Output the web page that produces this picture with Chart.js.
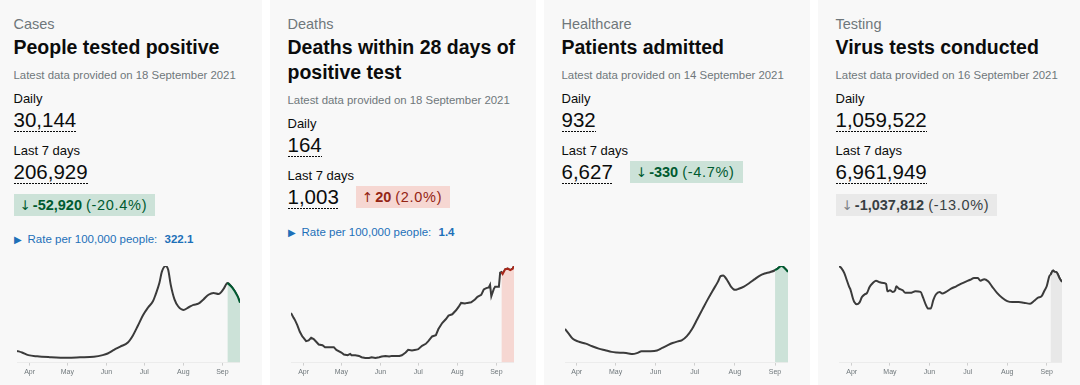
<!DOCTYPE html>
<html>
<head>
<meta charset="utf-8">
<script src="https://cdn.jsdelivr.net/npm/chart.js@4"></script>
<style>
  html,body{margin:0;padding:0;}
  body{width:1080px;height:385px;overflow:hidden;background:#fff;font-family:"Liberation Sans",Arial,sans-serif;color:#0b0c0c;}
  .card{position:absolute;top:0;width:266px;height:385px;background:#f8f8f8;box-sizing:border-box;padding:14px 0 0 17.5px;}
  .cap{font-size:14.5px;line-height:20px;color:#6f777b;}
  .title{font-size:19.5px;font-weight:700;line-height:25px;margin-top:1px;}
  .date{font-size:11.4px;line-height:18px;margin-top:6px;color:#6f777b;}
  .lbl{font-size:13px;line-height:18px;}
  .l1{margin-top:6px;}
  .l2{margin-top:10px;}
  .row{display:flex;flex-wrap:wrap;align-items:center;column-gap:17px;row-gap:5px;width:232px;}
  .brk{flex-basis:100%;height:0;}
  .num{display:inline-block;font-size:20.5px;line-height:23px;padding-bottom:1px;
       background:repeating-linear-gradient(to right,#0b0c0c 0 2px,transparent 2px 3px) left bottom/100% 1px no-repeat;}
  .chg{display:inline-flex;align-items:center;height:22px;padding:0 8px 0 6px;font-size:14.5px;white-space:nowrap;}
  .chg .ar{margin-right:2px;font-family:"DejaVu Sans",sans-serif;font-size:13.5px;}
  .chg b{font-weight:700;}
  .chg .pct{letter-spacing:0.7px;margin-left:4px;}
  .down{background:#cce2d8;color:#005a30;}
  .up{background:#f6d7d2;color:#942514;}
  .neutral{background:#e9e9e9;color:#383f43;}
  .neutral .ar{color:#7c8286;}
  .rate{margin-top:14px;font-size:11.5px;line-height:18px;color:#1d70b8;}
  .rate .tri{font-size:9.5px;margin-right:6px;}
  .rate b{margin-left:4px;}
  .chart{position:absolute;left:21px;top:262px;width:223px;height:116px;}
</style>
</head>
<body>

<div class="card" style="left:-4px">
  <div class="cap">Cases</div>
  <div class="title">People tested positive</div>
  <div class="date">Latest data provided on 18 September 2021</div>
  <div class="lbl l1">Daily</div>
  <div><span class="num">30,144</span></div>
  <div class="lbl l2">Last 7 days</div>
  <div class="row"><span class="num">206,929</span><span class="brk"></span><span class="chg down"><span class="ar">↓</span><b>-52,920</b><span class="pct">(-20.4%)</span></span></div>
  <div class="rate"><span class="tri">▶</span>Rate per 100,000 people: <b>322.1</b></div>
  <div class="chart"><canvas id="c1"></canvas></div>
</div>

<div class="card" style="left:270px">
  <div class="cap">Deaths</div>
  <div class="title">Deaths within 28 days of positive test</div>
  <div class="date">Latest data provided on 18 September 2021</div>
  <div class="lbl l1">Daily</div>
  <div><span class="num">164</span></div>
  <div class="lbl l2">Last 7 days</div>
  <div class="row"><span class="num">1,003</span><span class="chg up"><span class="ar">↑</span><b>20</b><span class="pct">(2.0%)</span></span></div>
  <div class="rate"><span class="tri">▶</span>Rate per 100,000 people: <b>1.4</b></div>
  <div class="chart"><canvas id="c2"></canvas></div>
</div>

<div class="card" style="left:544px">
  <div class="cap">Healthcare</div>
  <div class="title">Patients admitted</div>
  <div class="date">Latest data provided on 14 September 2021</div>
  <div class="lbl l1">Daily</div>
  <div><span class="num">932</span></div>
  <div class="lbl l2">Last 7 days</div>
  <div class="row"><span class="num">6,627</span><span class="chg down"><span class="ar">↓</span><b>-330</b><span class="pct">(-4.7%)</span></span></div>
  <div class="chart"><canvas id="c3"></canvas></div>
</div>

<div class="card" style="left:818px">
  <div class="cap">Testing</div>
  <div class="title">Virus tests conducted</div>
  <div class="date">Latest data provided on 16 September 2021</div>
  <div class="lbl l1">Daily</div>
  <div><span class="num">1,059,522</span></div>
  <div class="lbl l2">Last 7 days</div>
  <div class="row"><span class="num">6,961,949</span><span class="brk"></span><span class="chg neutral"><span class="ar">↓</span><b>-1,037,812</b><span class="pct">(-13.0%)</span></span></div>
  <div class="chart"><canvas id="c4"></canvas></div>
</div>

<script>
// x values are days counted from 1 April 2021
const monthTickDays = [0, 30, 61, 91, 122, 153];
const monthTickLabels = ["Apr", "May", "Jun", "Jul", "Aug", "Sep"];

const casesDays = [-10,-6,-1,6,16,30,40,51,58,62,67,72,78,82,86,90,94,98,100,103,105,108,110,112,115,118,122,126,130,134,138,142,146,150,154,157,161,165,167];
const casesValues = [5800,5000,3700,3100,2700,2400,2600,2900,3700,4500,6300,7900,9900,13400,18300,23400,27200,30400,33600,39300,44900,47700,45800,38500,31200,27700,26000,27200,28500,29100,31200,33500,34400,33900,36400,39300,36900,32800,29600];
const casesHighlightFrom = 157;

const deathsDays = [-10,-8,-7,-5,-3,-1,0,2,4,6,8,10,12,15,17,20,22,24,26,30,32,35,37,38,41,44,46,49,52,54,57,60,62,65,68,70,73,76,78,81,83,86,89,91,94,97,99,102,105,107,110,113,115,118,121,123,125,128,130,133,136,138,141,143,145,147,148,149,151,152,155,156,157,158,160,162,163,164,166,167];
const deathsValues = [74,67,64,56,46,39,37,32,33,37,35,31,27,26,23,23,23,23,19,15,12,11,13,11,11,10,8,7,7,8,7,8,9,10,9,10,10,10,11,15,19,18,19,20,25,28,32,39,41,50,59,65,70,72,78,83,89,88,89,90,94,98,101,109,111,112,116,99,110,113,113,134,135,132,139,140,139,138,140,144];
const deathsHighlightFrom = 157;

const admissionsDays = [-9,-6,-3,1,7,12,17,22,27,31,36,40,43,47,50,57,62,66,70,74,78,81,85,89,93,97,101,105,109,111,113,116,119,122,125,129,133,137,141,145,149,153,155,158,160,163];
const admissionsValues = [348,297,247,220,196,169,145,128,111,105,101,95,88,101,118,118,125,152,179,203,220,230,274,348,449,551,652,747,838,895,902,855,787,753,764,787,821,861,899,922,936,956,973,1000,983,939];
const admissionsHighlightFrom = 153;

const testsDays = [-10,-8,-6,-4,-2,-1,1,2,4,6,8,10,12,14,16,19,22,25,27,28,30,32,34,35,37,40,42,46,50,54,56,58,60,62,64,66,69,71,74,78,82,86,90,93,96,99,101,104,107,110,114,118,122,126,131,135,140,143,146,149,151,153,155,156,158,159,161,163,165];
const testsValues = [1190000,1162000,1109000,1021000,932000,900000,787000,746000,718000,738000,807000,839000,859000,932000,972000,1008000,989000,980000,968000,879000,891000,871000,888000,940000,912000,891000,859000,859000,879000,871000,799000,718000,665000,665000,770000,839000,871000,851000,871000,912000,940000,972000,1001000,1021000,1041000,1041000,1008000,1028000,1001000,940000,859000,799000,758000,746000,746000,738000,726000,758000,799000,819000,879000,940000,1061000,1081000,1134000,1121000,1109000,1041000,992000];
const testsHighlightFrom = 156;

const FONT = '"Liberation Sans", Arial, sans-serif';

function makeChart(id, days, values, hlFrom, hlLine, hlFill, smooth) {
  const pts = days.map((d, i) => ({x: d, y: values[i]}));
  const hlPts = pts.filter(p => p.x >= hlFrom);
  new Chart(document.getElementById(id), {
    type: 'line',
    data: {
      datasets: [
        {
          data: pts, order: 1, borderColor: '#3b3b3b', borderWidth: 2,
          pointRadius: 0, fill: false,
          tension: smooth ? 0.4 : 0, cubicInterpolationMode: smooth ? 'monotone' : 'default'
        },
        {
          data: hlPts, order: 0, borderColor: hlLine, borderWidth: 2,
          pointRadius: 0, fill: 'origin', backgroundColor: hlFill,
          tension: smooth ? 0.4 : 0, cubicInterpolationMode: smooth ? 'monotone' : 'default'
        }
      ]
    },
    options: {
      responsive: true, maintainAspectRatio: false, animation: false, events: [],
      layout: {padding: {top: 4, left: 0, right: 0, bottom: 0}},
      plugins: {legend: {display: false}, tooltip: {enabled: false}},
      scales: {
        x: {
          type: 'linear', min: days[0], max: days[days.length - 1],
          afterBuildTicks: axis => { axis.ticks = monthTickDays.map(v => ({value: v})); },
          ticks: {
            autoSkip: false, maxRotation: 0, padding: 2, color: '#6f777b',
            font: {size: 7, family: FONT},
            callback: v => monthTickLabels[monthTickDays.indexOf(v)]
          },
          grid: {drawOnChartArea: false, tickLength: 3, color: '#cfcfcf'},
          border: {color: '#ececec'}
        },
        y: {display: false, min: 0, max: Math.max(...values)}
      }
    }
  });
}

makeChart('c1', casesDays, casesValues, casesHighlightFrom, '#005a30', '#cce2d8', true);
makeChart('c2', deathsDays, deathsValues, deathsHighlightFrom, '#a8271a', '#f6d7d2', false);
makeChart('c3', admissionsDays, admissionsValues, admissionsHighlightFrom, '#005a30', '#cce2d8', true);
makeChart('c4', testsDays, testsValues, testsHighlightFrom, '#3b3b3b', '#e8e8e8', true);
</script>
</body>
</html>
